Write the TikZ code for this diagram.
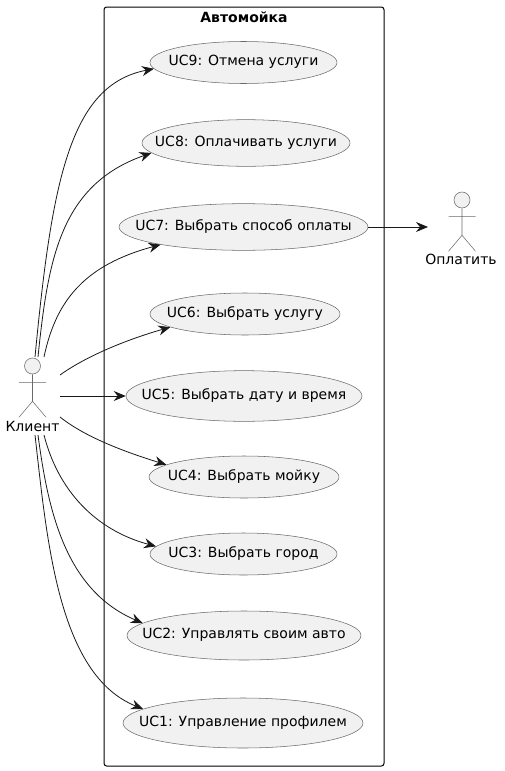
\documentclass[tikz,border=0pt]{standalone}
\usepackage{fontspec}
\setmainfont{DejaVu Sans}
\usetikzlibrary{arrows.meta,shapes.geometric}
\definecolor{usefill}{HTML}{F1F1F1}
\definecolor{useline}{HTML}{181818}
\definecolor{thinline}{HTML}{6A6A6A}
\tikzset{
  usecase/.style={ellipse,draw=thinline,line width=0.4pt,fill=usefill,inner sep=0pt,font=\fontsize{10.5}{12}\selectfont},
  actorline/.style={draw=thinline,line width=0.4pt},
  actorname/.style={font=\fontsize{10.5}{12}\selectfont,inner sep=0pt},
  link/.style={draw=useline,line width=0.6pt,-{Stealth[length=9pt,width=7.5pt,inset=3pt]}},
}
\newcommand{\uctext}[1]{\makebox[0pt]{\strut #1}}
\newcommand{\stickman}[3]{%
  \node[circle,actorline,fill=usefill,minimum size=12pt,inner sep=0pt] (#3) at (#1,#2) {};
  \draw[actorline] (#3.south) -- ++(0,27) ++(-13.5,-19) -- ++(27,0)
    ++(-13.5,19) -- ++(-13.5,16) ++(13.5,-16) -- ++(13.5,16);
}
\begin{document}
\begin{tikzpicture}[x=0.75pt, y=-0.75pt]
\useasboundingbox (0,0) rectangle (504,771);

\draw[black,line width=0.75pt,rounded corners=2pt] (104,7) rectangle (384,766);
\node[font=\bfseries\fontsize{10.5}{12}\selectfont,inner sep=0pt] (boxname) at (244,17) {Автомойка};

\node[usecase,minimum width=140.25pt,minimum height=31.5pt] (uc9) at (243.5,62.5) {\uctext{UC9: Отмена услуги}};
\node[usecase,minimum width=156pt,minimum height=35pt] (uc8) at (246,143) {\uctext{UC8: Оплачивать услуги}};
\node[usecase,minimum width=186.75pt,minimum height=35pt] (uc7) at (243.5,227) {\uctext{UC7: Выбрать способ оплаты}};
\node[usecase,minimum width=142.5pt,minimum height=31.5pt] (uc6) at (245,314) {\uctext{UC6: Выбрать услугу}};
\node[usecase,minimum width=177pt,minimum height=38pt] (uc5) at (244,396) {\uctext{UC5: Выбрать дату и время}};
\node[usecase,minimum width=142.5pt,minimum height=31.5pt] (uc4) at (244,477) {\uctext{UC4: Выбрать мойку}};
\node[usecase,minimum width=140.25pt,minimum height=31.5pt] (uc3) at (243.5,554) {\uctext{UC3: Выбрать город}};
\node[usecase,minimum width=175.5pt,minimum height=36.75pt] (uc2) at (244,635.5) {\uctext{UC2: Управлять своим авто}};
\node[usecase,minimum width=180pt,minimum height=37.5pt] (uc1) at (243,723) {\uctext{UC1: Управление профилем}};

\stickman{32.5}{366}{clienthead}
\node[actorname] (client) at (32.5,426) {Клиент};
\stickman{462}{200}{payhead}
\node[actorname] (pay) at (461,259) {Оплатить};

\coordinate (ct1) at (35,357);
\coordinate (ct2) at (38,357);
\coordinate (ct3) at (44,357);
\coordinate (cs1) at (60,375);
\coordinate (cs2) at (60,396);
\coordinate (cs3) at (60,417);
\coordinate (cb1) at (44,435);
\coordinate (cb2) at (38,435);
\coordinate (cb3) at (35,435);
\coordinate (payleft) at (428,227);

\draw[link] (ct1) .. controls (52,180) and (70,85) .. (uc9.184);
\draw[link] (ct2) .. controls (48,260) and (60,185) .. (uc8.186);
\draw[link] (ct3) .. controls (56,300) and (85,265) .. (uc7.192);
\draw[link] (cs1) .. controls (85,357) and (125,340) .. (uc6.190);
\draw[link] (cs2) -- (uc5.west);
\draw[link] (cs3) .. controls (85,437) and (125,452) .. (uc4.171);
\draw[link] (cb1) .. controls (58,490) and (95,530) .. (uc3.175);
\draw[link] (cb2) .. controls (48,510) and (65,590) .. (uc2.173);
\draw[link] (cb3) .. controls (47,540) and (58,675) .. (uc1.172);
\draw[link] (uc7.east) -- (payleft);
\end{tikzpicture}
\end{document}
